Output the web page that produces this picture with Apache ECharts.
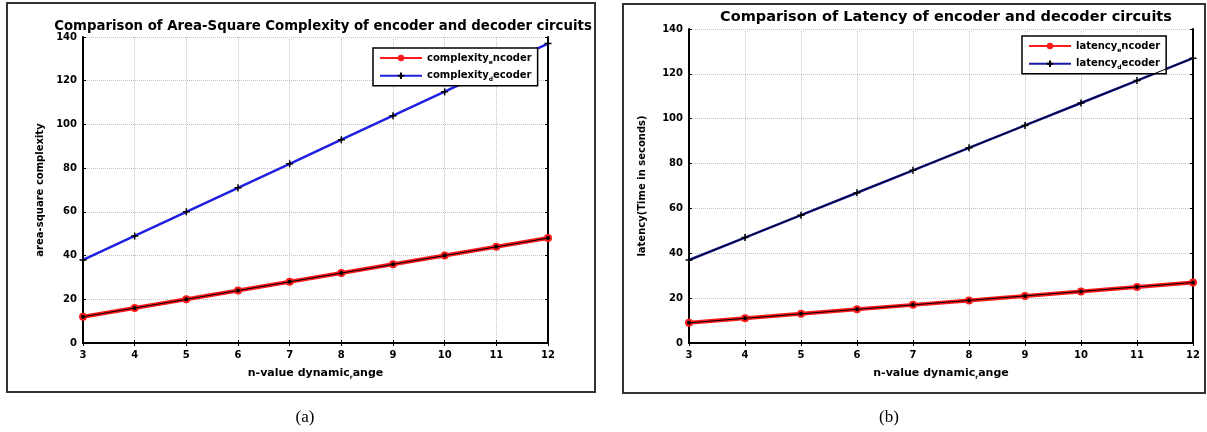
<!DOCTYPE html>
<html>
<head>
<meta charset="utf-8">
<script src="https://cdn.jsdelivr.net/npm/echarts@6/dist/echarts.min.js"></script>
<style>
  html, body { margin: 0; padding: 0; background: #fff; }
  #main { width: 1207px; height: 432px; }
</style>
</head>
<body>
<div id="main"></div>
<script>
// n values on the x axis (shared by both panels)
const nValues = [3, 4, 5, 6, 7, 8, 9, 10, 11, 12];

// panel (a): area-square complexity
const complexityEncoder = [12, 16, 20, 24, 28, 32, 36, 40, 44, 48];
const complexityDecoder = [38, 49, 60, 71, 82, 93, 104, 115, 126, 137];

// panel (b): latency
const latencyEncoder = [9, 11, 13, 15, 17, 19, 21, 23, 25, 27];
const latencyDecoder = [37, 47, 57, 67, 77, 87, 97, 107, 117, 127];

const yTicks = [0, 20, 40, 60, 80, 100, 120, 140];

const pairs = arr => nValues.map((n, i) => [n, arr[i]]);
const FONT = 'DejaVu Sans';
const plus = 'path://M0,5 L10,5 M5,0 L5,10';

const rich = {
  a: { fontFamily: FONT, fontWeight: 'bold', fontSize: 10, color: '#000' },
  s: { fontFamily: FONT, fontWeight: 'bold', fontSize: 6, color: '#000', padding: [8, 0, 0, 0] }
};
const sub = (pre, s, post) => `{a|${pre}}{s|${s}}{a|${post}}`;

function xAxes(gi) {
  return [
    {
      gridIndex: gi, type: 'value', min: 3, max: 12, interval: 1,
      name: sub('n-value dynamic', 'r', 'ange'),
      nameLocation: 'middle', nameGap: 23,
      nameTextStyle: { rich: { a: { ...rich.a, fontSize: 11 }, s: rich.s } },
      axisLine: { lineStyle: { color: '#000', width: 2 } },
      axisTick: { inside: true, length: 3, lineStyle: { color: '#000' } },
      axisLabel: { color: '#000', fontFamily: FONT, fontWeight: 'bold', fontSize: 10, margin: 7 },
      splitLine: { show: true, lineStyle: { color: '#c4c4c4', type: 'dotted' } }
    },
    {
      gridIndex: gi, type: 'value', min: 3, max: 12, interval: 1, position: 'top',
      axisLine: { lineStyle: { color: '#000', width: 2 } },
      axisTick: { inside: true, length: 3, lineStyle: { color: '#000' } },
      axisLabel: { show: false }, splitLine: { show: false }
    }
  ];
}

function yAxes(gi, name, gap) {
  return [
    {
      gridIndex: gi, type: 'value', min: 0, max: 140, interval: 20,
      name: name, nameLocation: 'middle', nameGap: gap,
      nameTextStyle: { color: '#000', fontFamily: FONT, fontWeight: 'bold', fontSize: 10 },
      axisLine: { show: true, lineStyle: { color: '#000', width: 2 } },
      axisTick: { show: true, inside: true, length: 3, lineStyle: { color: '#000' } },
      axisLabel: { color: '#000', fontFamily: FONT, fontWeight: 'bold', fontSize: 10, margin: 6,
        formatter: v => yTicks.includes(v) ? String(v) : '' },
      splitLine: { show: true, lineStyle: { color: '#c4c4c4', type: 'dotted' } }
    },
    {
      gridIndex: gi, type: 'value', min: 0, max: 140, interval: 20, position: 'right',
      axisLine: { show: true, lineStyle: { color: '#000', width: 2 } },
      axisTick: { show: true, inside: true, length: 3, lineStyle: { color: '#000' } },
      axisLabel: { show: false }, splitLine: { show: false }
    }
  ];
}

function encSeries(name, data, axis) {
  return [
    {
      name: name, type: 'line', xAxisIndex: axis, yAxisIndex: axis, data: pairs(data),
      symbol: 'circle', symbolSize: 8, z: 3,
      lineStyle: { color: '#ff1a1a', width: 4 },
      itemStyle: { color: '#ff1a1a' }
    },
    {
      type: 'line', xAxisIndex: axis, yAxisIndex: axis, data: pairs(data),
      symbol: 'circle', symbolSize: 4, z: 4, silent: true,
      lineStyle: { color: '#000', width: 1 },
      itemStyle: { color: '#000' }
    }
  ];
}

function decSeries(name, data, axis, color, overlay) {
  const s = [{
    name: name, type: 'line', xAxisIndex: axis, yAxisIndex: axis, data: pairs(data),
    symbol: plus, symbolSize: 7, z: 3,
    lineStyle: { color: color, width: 2.5 },
    itemStyle: { color: 'none', borderColor: '#000', borderWidth: 1.5 }
  }];
  if (overlay) {
    s.push({
      type: 'line', xAxisIndex: axis, yAxisIndex: axis, data: pairs(data),
      symbol: 'none', z: 4, silent: true,
      lineStyle: { color: '#000', width: 1 }
    });
  }
  return s;
}

const legendBase = {
  orient: 'vertical', backgroundColor: '#fff', borderColor: '#000', borderWidth: 1.5,
  padding: [5, 6, 3, 6], itemGap: 5, itemWidth: 42, itemHeight: 8,
  textStyle: { rich: rich }
};

const chart = echarts.init(document.getElementById('main'));
chart.setOption({
  backgroundColor: '#fff',
  animation: false,
  title: [
    { text: 'Comparison of Area-Square Complexity of encoder and decoder circuits',
      left: 318, top: 15, textAlign: 'center',
      textStyle: { fontFamily: FONT, fontWeight: 'bold', fontSize: 13.3, color: '#000' } },
    { text: 'Comparison of Latency of encoder and decoder circuits',
      left: 941, top: 5, textAlign: 'center',
      textStyle: { fontFamily: FONT, fontWeight: 'bold', fontSize: 14.5, color: '#000' } },
    { text: '(a)', left: 300, top: 404, textAlign: 'center',
      textStyle: { fontFamily: 'Liberation Serif', fontWeight: 'normal', fontSize: 17, color: '#000' } },
    { text: '(b)', left: 884, top: 404, textAlign: 'center',
      textStyle: { fontFamily: 'Liberation Serif', fontWeight: 'normal', fontSize: 17, color: '#000' } }
  ],
  legend: [
    { ...legendBase, left: 373, top: 48,
      data: ['complexity_encoder', 'complexity_decoder'],
      formatter: n => n === 'complexity_encoder' ? sub('complexity', 'e', 'ncoder') : sub('complexity', 'd', 'ecoder') },
    { ...legendBase, left: 1022, top: 36,
      data: ['latency_encoder', 'latency_decoder'],
      formatter: n => n === 'latency_encoder' ? sub('latency', 'e', 'ncoder') : sub('latency', 'd', 'ecoder') }
  ],
  grid: [
    { left: 83, top: 37, width: 465, height: 306 },
    { left: 689, top: 29, width: 504, height: 314 }
  ],
  xAxis: [...xAxes(0), ...xAxes(1)],
  yAxis: [
    ...yAxes(0, 'area-square complexity', 38),
    ...yAxes(1, 'latency(Time in seconds)', 42)
  ],
  series: [
    ...encSeries('complexity_encoder', complexityEncoder, 0),
    ...decSeries('complexity_decoder', complexityDecoder, 0, '#2020e0', false),
    ...encSeries('latency_encoder', latencyEncoder, 2),
    ...decSeries('latency_decoder', latencyDecoder, 2, '#1a1aa8', true)
  ],
  graphic: [
    { type: 'rect', shape: { x: 7, y: 3, width: 588, height: 389 },
      style: { fill: 'none', stroke: '#333', lineWidth: 2 }, silent: true, z: -1 },
    { type: 'rect', shape: { x: 623, y: 4, width: 582, height: 389 },
      style: { fill: 'none', stroke: '#333', lineWidth: 2 }, silent: true, z: -1 }
  ]
});
</script>
</body>
</html>
